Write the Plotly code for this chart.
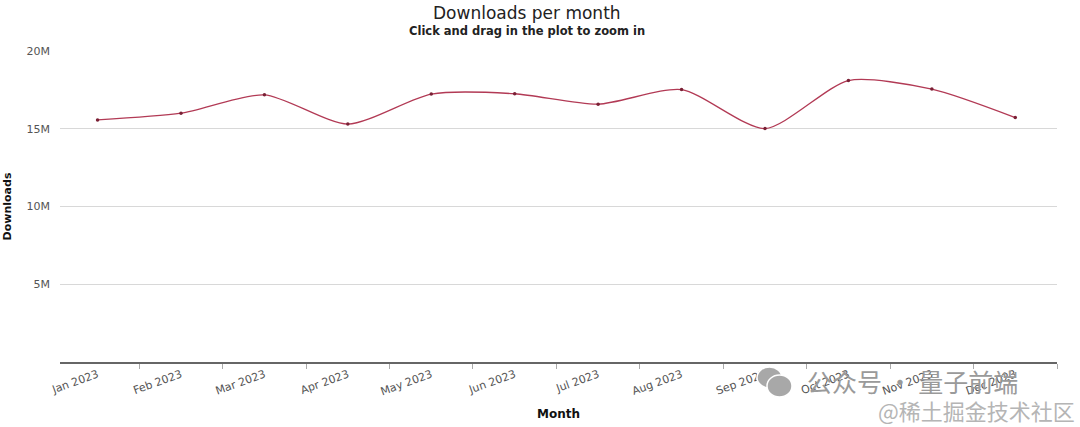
import plotly.graph_objects as go

months = ["Jan 2023", "Feb 2023", "Mar 2023", "Apr 2023", "May 2023", "Jun 2023",
          "Jul 2023", "Aug 2023", "Sep 2023", "Oct 2023", "Nov 2023", "Dec 2023"]
downloads = [15.57e6, 16.0e6, 17.18e6, 15.3e6, 17.23e6, 17.25e6,
             16.58e6, 17.52e6, 15.01e6, 18.1e6, 17.55e6, 15.72e6]
y_tickvals = [5e6, 10e6, 15e6, 20e6]
y_ticktext = ["5M", "10M", "15M", "20M"]

W, H = 1080, 427
L, T = 60, 51
R = W - 1057
B = H - 362
pw = W - L - R
ph = H - T - B


def px(x):
    return (x - L) / pw


def py(y):
    return (H - B - y) / ph


def ann(text, x, y, size, color, family=None):
    f = dict(size=size, color=color)
    if family:
        f["family"] = family
    return dict(text=text, x=px(x), y=py(y), xref="paper", yref="paper",
                xanchor="center", yanchor="middle", showarrow=False, font=f)


def bubble(x0, y0, x1, y1):
    return dict(type="circle", xref="paper", yref="paper",
                x0=px(x0), x1=px(x1), y0=py(y1), y1=py(y0),
                fillcolor="#a8a8a8", line=dict(color="white", width=1.5), layer="above")


fig = go.Figure()
fig.add_trace(go.Scatter(
    x=months, y=downloads, mode="lines+markers",
    line=dict(color="#b23a55", width=1.3, shape="spline", smoothing=0.7),
    marker=dict(color="#7a2035", size=3.5),
    showlegend=False,
))

fig.update_layout(
    width=W, height=H,
    margin=dict(l=L, r=R, t=T, b=B, autoexpand=False),
    paper_bgcolor="white", plot_bgcolor="white",
    font=dict(family="DejaVu Sans", color="#333"),
    xaxis=dict(
        type="category", range=[-0.45, 11.5], automargin=False,
        tickangle=-20, tickfont=dict(size=11, color="#555"),
        showgrid=False, showline=True, linecolor="#666", linewidth=2,
        ticks="outside", ticklen=5, tickcolor="#aaa", tickson="boundaries",
        title=dict(text="<b>Month</b>", font=dict(size=12, color="#111"), standoff=12),
    ),
    yaxis=dict(
        range=[0, 20e6], tickvals=y_tickvals, ticktext=y_ticktext, automargin=False,
        tickfont=dict(size=11, color="#555"),
        showgrid=True, gridcolor="#d8d8d8", gridwidth=1,
        zeroline=False, showline=False, ticks="", ticklabelstandoff=9,
        title=dict(text="<b>Downloads</b>", font=dict(size=11, color="#111"), standoff=12),
    ),
    annotations=[
        ann("Downloads per month", 527, 13, 17, "#222"),
        ann("<b>Click and drag in the plot to zoom in</b>", 527, 31, 11.5, "#222"),
        ann("公众号 · 量子前端", 912, 381, 25, "#9a9a9a", "Noto Sans CJK SC"),
        ann("@稀土掘金技术社区", 976, 410, 22, "#b5b5b5", "Noto Sans CJK SC"),
    ],
    shapes=[
        bubble(757, 367, 782, 388),
        bubble(767, 375, 792, 397),
    ],
)

fig.write_html("out.html", config={"displayModeBar": False},
               post_script="document.body.style.margin='0';")
